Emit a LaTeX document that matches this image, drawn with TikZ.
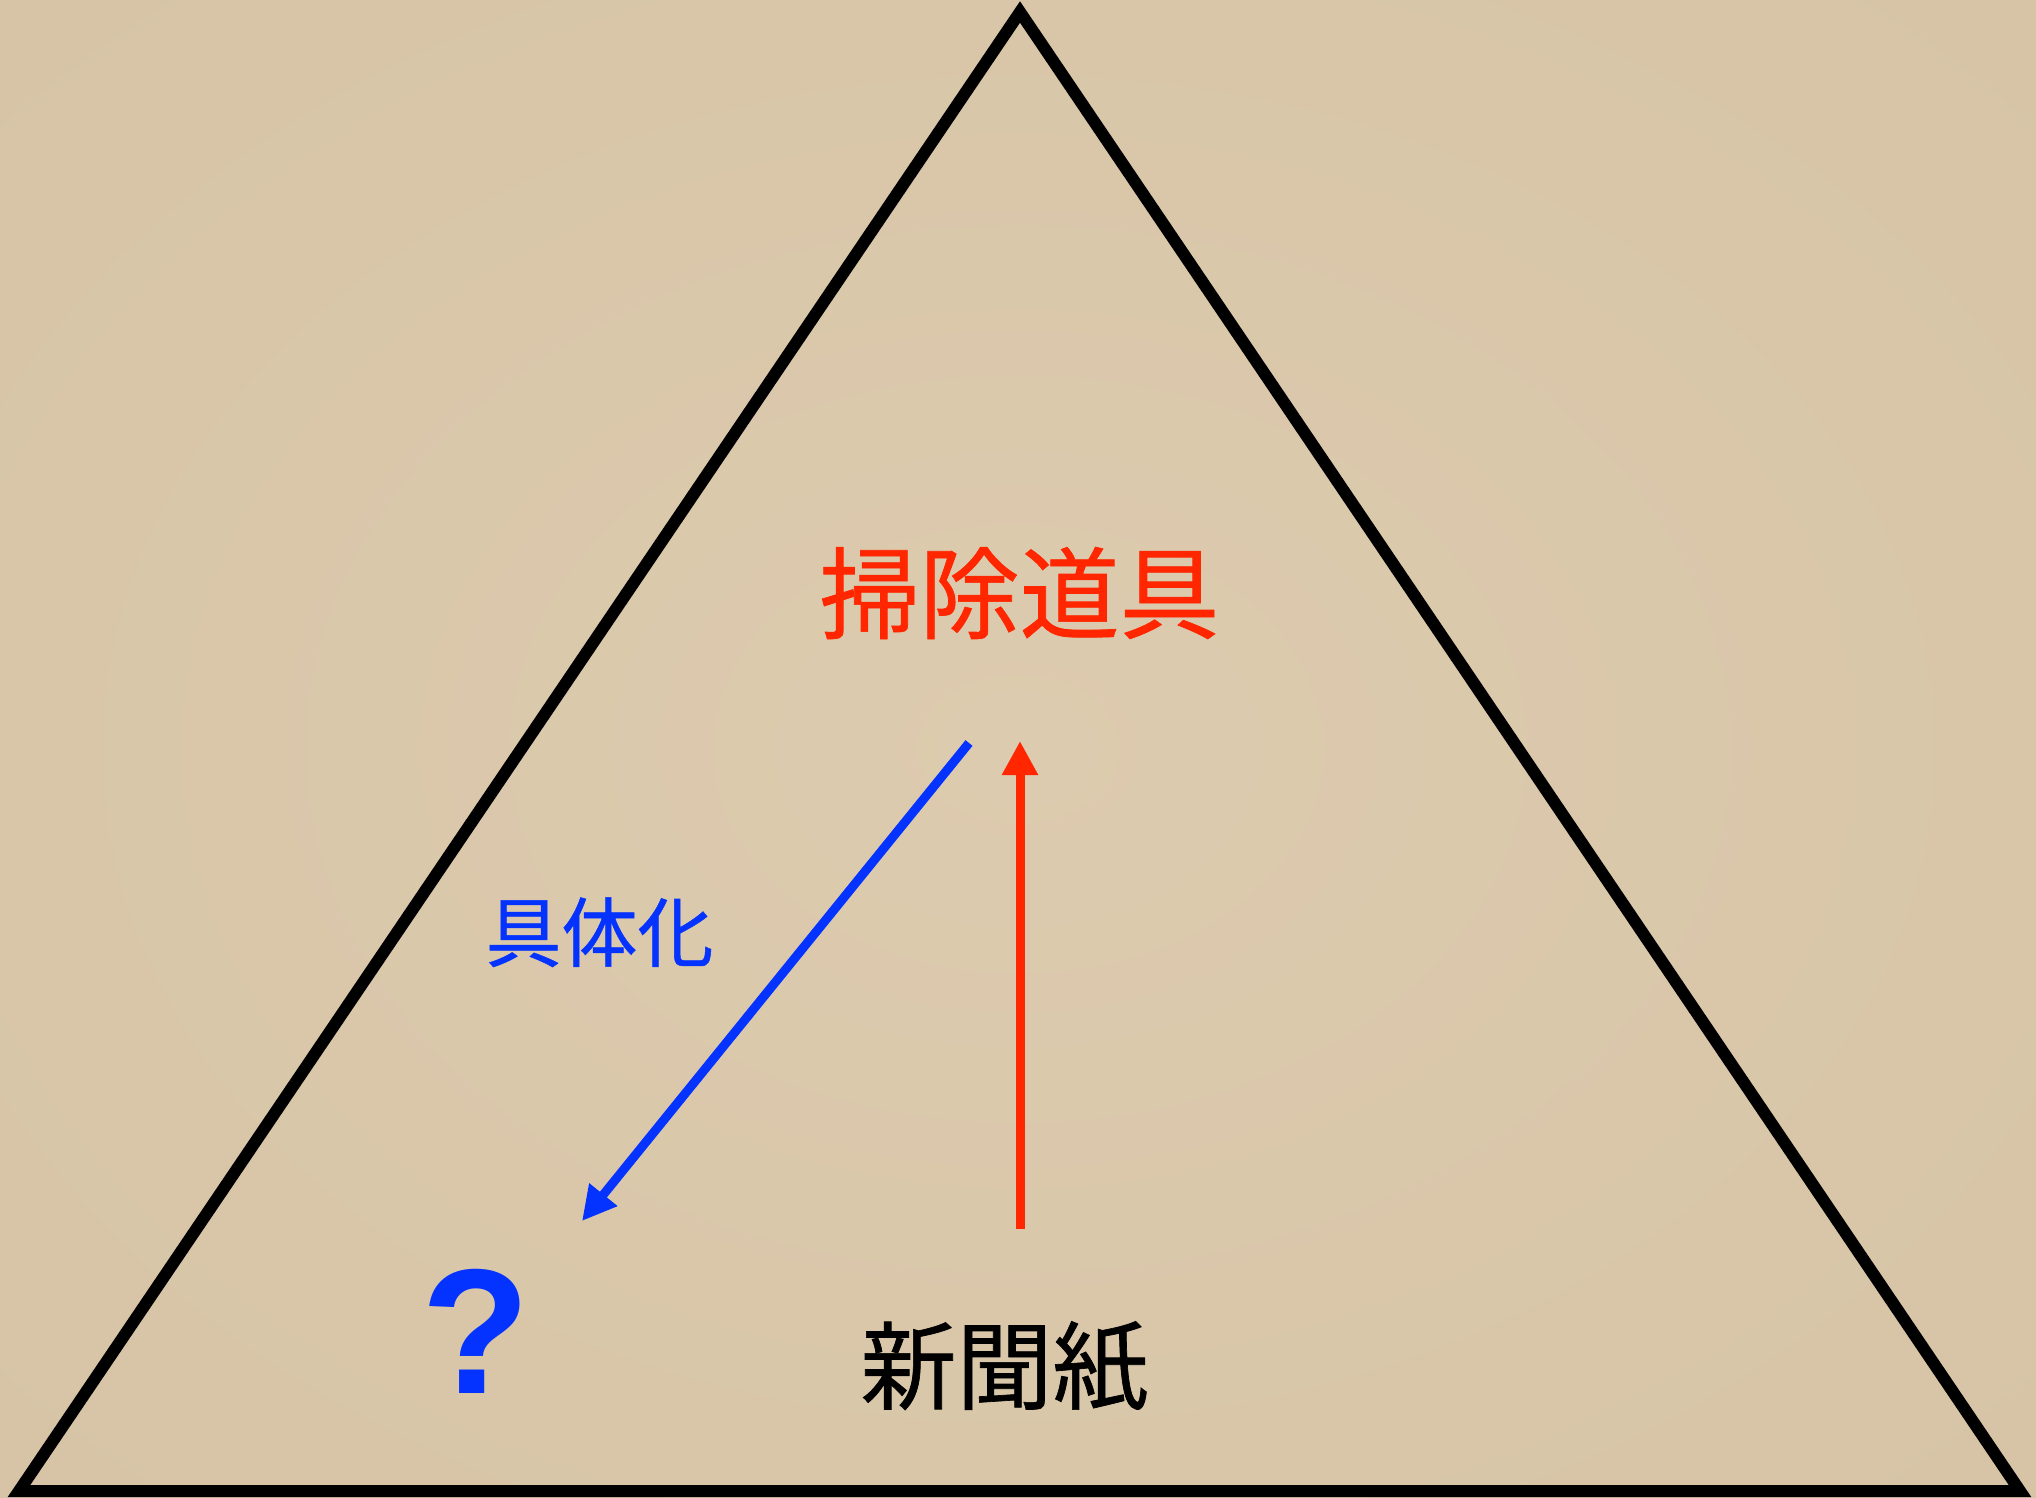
\documentclass[tikz,border=0pt]{standalone}
\usepackage{fontspec}
\setmainfont{Liberation Sans}
\newfontfamily\cjk[FakeBold=0.7]{Noto Sans CJK JP}
\usetikzlibrary{arrows.meta}
\definecolor{kred}{RGB}{255,38,0}
\definecolor{kblue}{RGB}{4,51,255}
\definecolor{paperin}{RGB}{221,203,175}
\definecolor{paperout}{RGB}{204,183,150}
\pgfdeclareradialshading{paper}{\pgfpoint{0bp}{0bp}}{color(0bp)=(paperin); color(40bp)=(paperin!60!paperout); color(72bp)=(paperout)}
\tikzset{
  frame/.style={draw=black, line width=12pt, line join=miter},
  conn/.style={line width=9pt, -{Triangle[length=34pt,width=34pt]}},
  label/.style={inner sep=0pt, anchor=base},
}
\begin{document}
\begin{tikzpicture}[x=1pt, y=-1pt]
  \useasboundingbox (0,0) rectangle (2036,1497);
  \fill[shading=paper] (0,0) rectangle (2036,1497);
  % triangle
  \draw[frame] (1020,12) -- (2020,1491) -- (19,1491) -- cycle;
  % texts
  \node[label, text=kred, font=\cjk\fontsize{100pt}{100pt}\selectfont] (souji) at (1019.5,631) {掃除道具};
  \node[label, text=kblue, font=\cjk\fontsize{76pt}{76pt}\selectfont] (gutai) at (599.5,961) {具体化};
  \node[label, text=black, font=\cjk\fontsize{96pt}{96pt}\selectfont] (shinbun) at (1004.5,1402) {新聞紙};
  \node[label, text=kblue, font=\bfseries\fontsize{178pt}{178pt}\selectfont] (q) at (476,1393) {?};
  % connector ends
  \coordinate (btail) at (969,743);
  \coordinate (btip) at (582,1221);
  \coordinate (rtail) at (1020,1229);
  \coordinate (rtip) at (1020,741);
  \draw[conn, draw=kblue, fill=kblue] (btail) -- (btip);
  \draw[conn, draw=kred, fill=kred] (rtail) -- (rtip);
\end{tikzpicture}
\end{document}
